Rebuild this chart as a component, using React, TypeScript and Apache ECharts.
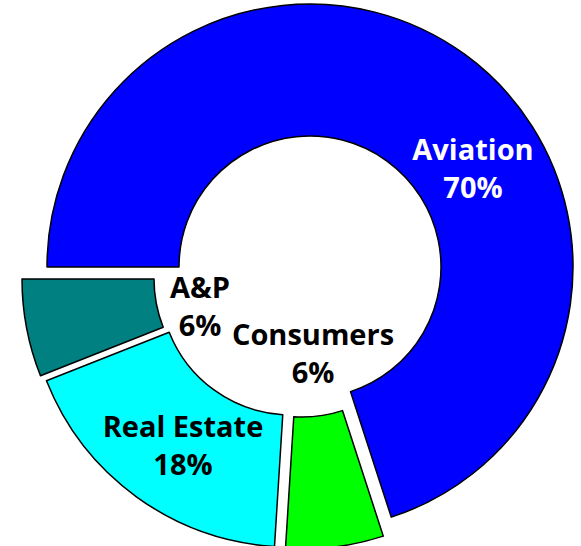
import React, { useEffect, useRef } from 'react';
import * as echarts from 'echarts';

// Data
const categories = ['Aviation', 'Consumers', 'Real Estate', 'A&P'];
const shares = [70, 6, 18, 6];

// Styles / layout (kept separate from data)
const sliceColors = ['#0000FF', '#00FF00', '#00FFFF', '#008080'];
const labelColors = ['#FFFFFF', '#000000', '#000000', '#000000'];
const CENTER = [310, 267];
const RADII = [131, 263];
const sliceShift = [
  [0, 0],
  [-8, 19],
  [-19, 17],
  [-25, 12],
];
const labelPos = [
  [473, 167],
  [313, 352],
  [183, 444],
  [200, 305],
];

export default function App() {
  const ref = useRef<HTMLDivElement>(null);

  useEffect(() => {
    document.body.style.margin = '0';
    if (!ref.current) return;
    const chart = echarts.init(ref.current, undefined, { renderer: 'svg' });

    const series = categories.map((_, i) => ({
      type: 'pie',
      name: categories[i],
      startAngle: 180,
      clockwise: true,
      center: [CENTER[0] + sliceShift[i][0], CENTER[1] + sliceShift[i][1]],
      radius: RADII,
      avoidLabelOverlap: false,
      silent: true,
      z: 2 + i,
      emphasis: { disabled: true },
      labelLine: { show: false },
      label: {
        position: 'inside',
        formatter: '{b}\n{c}%',
        fontFamily: '"Open Sans", "DejaVu Sans", sans-serif',
        fontWeight: 'bold',
        fontSize: 29,
        lineHeight: 38,
        color: labelColors[i],
        textBorderWidth: 0,
      },
      labelLayout: (p: any) => ({
        x: labelPos[p.dataIndex][0],
        y: labelPos[p.dataIndex][1],
        align: 'center',
        verticalAlign: 'middle',
      }),
      data: categories.map((name, j) => ({
        name,
        value: shares[j],
        itemStyle:
          j === i
            ? { color: sliceColors[j], borderColor: '#000000', borderWidth: 1.5 }
            : { color: 'rgba(0,0,0,0)', borderWidth: 0 },
        label: { show: j === i },
      })),
    }));

    chart.setOption({
      animation: false,
      backgroundColor: '#FFFFFF',
      series,
    } as any);

    return () => chart.dispose();
  }, []);

  return <div ref={ref} style={{ width: 581, height: 546 }} />;
}
